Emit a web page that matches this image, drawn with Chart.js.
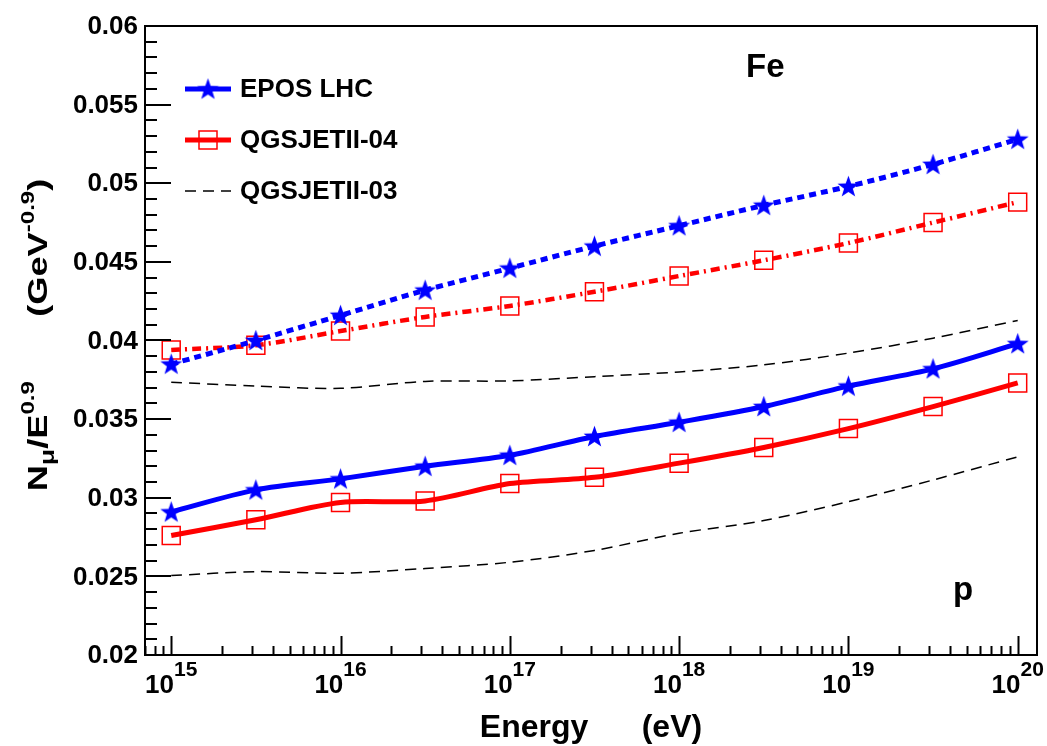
<!DOCTYPE html>
<html>
<head>
<meta charset="utf-8">
<script src="https://cdn.jsdelivr.net/npm/chart.js@4.4.0/dist/chart.umd.min.js"></script>
<style>
  html, body { margin: 0; padding: 0; background: #fff; overflow: hidden; }
  canvas { display: block; }
</style>
</head>
<body>
<canvas id="muonChart" width="1047" height="746"></canvas>
<script>
// primary energy in eV, half-decade steps
const energies = [1e15, 3.162e15, 1e16, 3.162e16, 1e17, 3.162e17, 1e18, 3.162e18, 1e19, 3.162e19, 1e20];

// N_mu / E^0.9 for iron primaries
const eposFe   = [0.0385, 0.0400, 0.0416, 0.0432, 0.0446, 0.0460, 0.0473, 0.0486, 0.0498, 0.0512, 0.0528];
const qgsjet04Fe = [0.0394, 0.0397, 0.0406, 0.0415, 0.0422, 0.0431, 0.0441, 0.0451, 0.0462, 0.0475, 0.0488];
const qgsjet03Fe = [0.03735, 0.0371, 0.03696, 0.0374, 0.03743, 0.0377, 0.0380, 0.03845, 0.0392, 0.04015, 0.04127];

// N_mu / E^0.9 for proton primaries
const eposP    = [0.0291, 0.0305, 0.0312, 0.0320, 0.0327, 0.0339, 0.0348, 0.0358, 0.0371, 0.0382, 0.0398];
const qgsjet04P  = [0.0276, 0.0286, 0.0297, 0.0298, 0.0309, 0.0313, 0.0322, 0.0332, 0.0344, 0.0358, 0.0373];
const qgsjet03P  = [0.02505, 0.0253, 0.0252, 0.0255, 0.0259, 0.02665, 0.02774, 0.02855, 0.02975, 0.03113, 0.0326];

const yTicks = [0.02, 0.025, 0.03, 0.035, 0.04, 0.045, 0.05, 0.055, 0.06];
const yTickLabels = ['0.02', '0.025', '0.03', '0.035', '0.04', '0.045', '0.05', '0.055', '0.06'];
const xTickExponents = [15, 16, 17, 18, 19, 20];

const FONT = '"Liberation Sans", Arial, Helvetica, sans-serif';
const BLUE = '#0000ff';
const RED = '#ff0000';

function boldFont(size) {
    return `bold ${size}px ${FONT}`;
}

// filled five-pointed star used as marker
function makeStar(size, color) {
    const c = document.createElement('canvas');
    c.width = size;
    c.height = size;
    const g = c.getContext('2d');
    const cx = size / 2, cy = size / 2 + 0.8;
    const rOut = size / 2, rIn = size * 0.2;
    g.beginPath();
    for (let i = 0; i < 10; i++) {
        const r = i % 2 === 0 ? rOut : rIn;
        const a = -Math.PI / 2 + i * Math.PI / 5;
        const px = cx + r * Math.cos(a), py = cy + r * Math.sin(a);
        if (i === 0) g.moveTo(px, py); else g.lineTo(px, py);
    }
    g.closePath();
    g.fillStyle = color;
    g.fill();
    return c;
}

const starMarker = makeStar(23, BLUE);

function series(values) {
    return values.map((v, i) => ({ x: energies[i], y: v }));
}

// draws a run of text pieces (with sub/superscripts) along one baseline
function drawRich(ctx, parts, x, y, align) {
    let total = 0;
    parts.forEach(p => {
        if (p.gap) { p.w = p.gap; }
        else { ctx.font = boldFont(p.size); p.w = ctx.measureText(p.t).width; }
        total += p.w;
    });
    let cx = align === 'center' ? x - total / 2 : (align === 'right' ? x - total : x);
    ctx.textAlign = 'left';
    ctx.textBaseline = 'alphabetic';
    parts.forEach(p => {
        if (!p.gap) {
            ctx.font = boldFont(p.size);
            ctx.fillText(p.t, cx, y + (p.dy || 0));
        }
        cx += p.w;
    });
}

const frameAndText = {
    id: 'frameAndText',
    afterDraw(chart) {
        const ctx = chart.ctx;
        const area = chart.chartArea;
        const xs = chart.scales.x;
        const ys = chart.scales.y;
        ctx.save();
        ctx.strokeStyle = '#000';
        ctx.fillStyle = '#000';
        ctx.lineWidth = 2;
        ctx.setLineDash([]);

        // frame
        ctx.strokeRect(area.left, area.top, area.right - area.left, area.bottom - area.top);

        // y ticks, inside the frame on the left
        ctx.beginPath();
        for (let v = 0.02; v <= 0.06 + 1e-9; v += 0.001) {
            const py = Math.round(ys.getPixelForValue(v));
            const major = Math.abs(v * 1000 / 5 - Math.round(v * 1000 / 5)) < 1e-6;
            ctx.moveTo(area.left, py);
            ctx.lineTo(area.left + (major ? 26 : 12), py);
        }
        // x ticks, log decades and sub-decades
        for (let e = 14; e <= 20; e++) {
            for (let k = 1; k <= 9; k++) {
                const val = k * Math.pow(10, e);
                if (val < xs.min || val > xs.max) continue;
                const px = Math.round(xs.getPixelForValue(val)) + 0.5;
                ctx.moveTo(px, area.bottom);
                ctx.lineTo(px, area.bottom - (k === 1 ? 19 : 9));
            }
        }
        ctx.stroke();

        // y tick labels
        ctx.font = boldFont(26);
        ctx.textAlign = 'right';
        ctx.textBaseline = 'middle';
        yTicks.forEach((v, i) => {
            ctx.fillText(yTickLabels[i], area.left - 7, ys.getPixelForValue(v) + 1);
        });

        // x tick labels 10^n
        xTickExponents.forEach(n => {
            const px = xs.getPixelForValue(Math.pow(10, n));
            drawRich(ctx, [{ t: '10', size: 26 }, { t: String(n), size: 21, dy: -17 }], px, area.bottom + 38, 'center');
        });

        // axis titles
        ctx.font = boldFont(32);
        ctx.textAlign = 'center';
        ctx.textBaseline = 'alphabetic';
        ctx.fillText('Energy      (eV)', (area.left + area.right) / 2, 737);

        ctx.save();
        ctx.translate(47, 335);
        ctx.rotate(-Math.PI / 2);
        ctx.scale(1.34, 1);
        drawRich(ctx, [
            { t: 'N', size: 27 },
            { t: 'μ', size: 20, dy: 7 },
            { t: '/E', size: 27 },
            { t: '0.9', size: 18, dy: -13 },
            { gap: 48 },
            { t: '(GeV', size: 27 },
            { t: '-0.9', size: 18, dy: -13 },
            { t: ')', size: 27 }
        ], 0, 0, 'center');
        ctx.restore();

        // primary labels
        ctx.font = boldFont(33);
        ctx.textAlign = 'left';
        ctx.textBaseline = 'alphabetic';
        ctx.fillText('Fe', 746, 77);
        ctx.fillText('p', 953, 600);

        // legend
        const lx0 = 185, lx1 = 231, lmid = 208, ltext = 240;
        const rows = [89, 140, 191];
        ctx.lineWidth = 5;
        ctx.strokeStyle = BLUE;
        ctx.beginPath(); ctx.moveTo(lx0, rows[0]); ctx.lineTo(lx1, rows[0]); ctx.stroke();
        ctx.drawImage(starMarker, lmid - starMarker.width / 2, rows[0] - starMarker.height / 2);

        ctx.strokeStyle = RED;
        ctx.beginPath(); ctx.moveTo(lx0, rows[1]); ctx.lineTo(lx1, rows[1]); ctx.stroke();
        ctx.lineWidth = 1.5;
        ctx.strokeRect(lmid - 9, rows[1] - 9, 18, 18);

        ctx.strokeStyle = '#000';
        ctx.setLineDash([11, 7]);
        ctx.beginPath(); ctx.moveTo(lx0, rows[2]); ctx.lineTo(lx1, rows[2]); ctx.stroke();
        ctx.setLineDash([]);

        ctx.fillStyle = '#000';
        ctx.font = boldFont(26);
        ctx.textBaseline = 'middle';
        ctx.fillText('EPOS LHC', ltext, rows[0] + 1);
        ctx.fillText('QGSJETII-04', ltext, rows[1] + 1);
        ctx.fillText('QGSJETII-03', ltext, rows[2] + 1);
        ctx.restore();
    }
};

const curveDefaults = {
    tension: 0.3,
    fill: false,
    clip: false
};

new Chart(document.getElementById('muonChart'), {
    type: 'line',
    data: {
        datasets: [
            Object.assign({}, curveDefaults, {
                label: 'EPOS LHC (Fe)', data: series(eposFe),
                borderColor: BLUE, borderWidth: 5, borderDash: [7, 5],
                pointStyle: starMarker, pointRadius: 11
            }),
            Object.assign({}, curveDefaults, {
                label: 'EPOS LHC (p)', data: series(eposP),
                borderColor: BLUE, borderWidth: 5,
                pointStyle: starMarker, pointRadius: 11
            }),
            Object.assign({}, curveDefaults, {
                label: 'QGSJETII-04 (Fe)', data: series(qgsjet04Fe),
                borderColor: RED, borderWidth: 4.5, borderDash: [9, 5, 2, 5],
                pointStyle: 'rect', pointRadius: 12.7, pointBorderWidth: 1.5,
                pointBorderColor: RED, pointBackgroundColor: 'transparent'
            }),
            Object.assign({}, curveDefaults, {
                label: 'QGSJETII-04 (p)', data: series(qgsjet04P),
                borderColor: RED, borderWidth: 5,
                pointStyle: 'rect', pointRadius: 12.7, pointBorderWidth: 1.5,
                pointBorderColor: RED, pointBackgroundColor: 'transparent'
            }),
            Object.assign({}, curveDefaults, {
                label: 'QGSJETII-03 (Fe)', data: series(qgsjet03Fe),
                borderColor: '#000', borderWidth: 1.5, borderDash: [11, 7],
                pointRadius: 0
            }),
            Object.assign({}, curveDefaults, {
                label: 'QGSJETII-03 (p)', data: series(qgsjet03P),
                borderColor: '#000', borderWidth: 1.5, borderDash: [11, 7],
                pointRadius: 0
            })
        ]
    },
    options: {
        responsive: false,
        animation: false,
        devicePixelRatio: 1,
        layout: { autoPadding: false, padding: { left: 145, right: 10, top: 26, bottom: 91 } },
        plugins: {
            legend: { display: false },
            tooltip: { enabled: false }
        },
        scales: {
            x: { type: 'logarithmic', min: 7e14, max: 1.3e20, display: false },
            y: { type: 'linear', min: 0.02, max: 0.06, display: false }
        }
    },
    plugins: [frameAndText]
});
</script>
</body>
</html>
